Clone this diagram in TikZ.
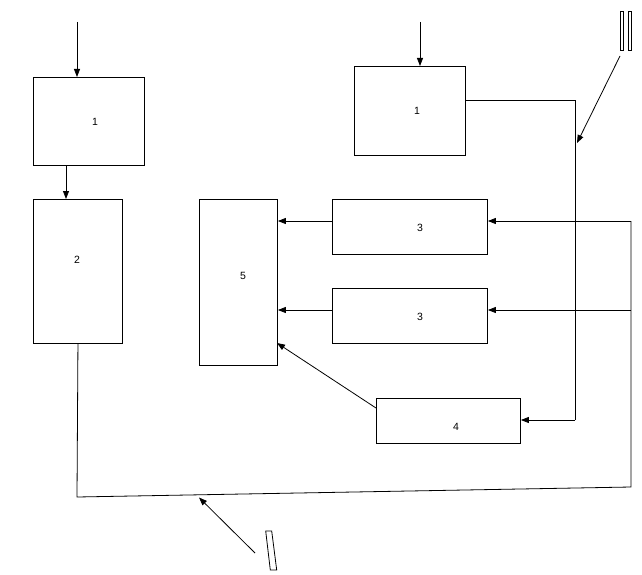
\documentclass[tikz,border=0pt]{standalone}
\usepackage{fontspec}
\setmainfont{Liberation Sans}
\usetikzlibrary{arrows.meta}
\begin{document}
\begin{tikzpicture}[x=1pt,y=-1pt,
  box/.style={draw,line width=0.9pt,inner sep=0pt,anchor=north west},
  lab/.style={font=\fontsize{10.5}{12}\selectfont,inner sep=0pt},
  wire/.style={line width=0.8pt},
  arr/.style={wire,-{Triangle[length=8pt,width=6pt]}}]
\useasboundingbox (0,0) rectangle (642,575);
% boxes
\node[box,minimum width=111pt,minimum height=88pt] (b1) at (33,77) {};
\node[box,minimum width=89pt,minimum height=144pt] (b2) at (33,199) {};
\node[box,minimum width=111pt,minimum height=89pt] (b1r) at (354,66) {};
\node[box,minimum width=78pt,minimum height=166pt] (b5) at (199,199) {};
\node[box,minimum width=155pt,minimum height=55pt] (b3a) at (332,199) {};
\node[box,minimum width=155pt,minimum height=55pt] (b3b) at (332,288) {};
\node[box,minimum width=144pt,minimum height=45pt] (b4) at (376,398) {};
% labels
\node[lab] (l1) at (95,122) {1};
\node[lab] (l2) at (77,260) {2};
\node[lab] (l1r) at (417,111) {1};
\node[lab] (l5) at (243,276) {5};
\node[lab] (l3a) at (420,228) {3};
\node[lab] (l3b) at (420,317) {3};
\node[lab] (l4) at (456,427) {4};
% coordinates
\coordinate (in1) at (77,22);
\coordinate (in2) at (420,22);
\coordinate (c1) at (575,100);
\coordinate (c2) at (575,420);
\coordinate (fs) at (620,56);
\coordinate (fe) at (577,143);
\coordinate (r1) at (631,221);
\coordinate (r2) at (631,310);
\coordinate (bl) at (77,497);
\coordinate (br) at (631,487);
\coordinate (ss) at (255,553);
\coordinate (se) at (199,497.5);
% connectors
\draw[arr] (in1) -- (in1 |- b1.north);
\draw[arr] (66,165) -- (66,199);
\draw[arr] (in2) -- (in2 |- b1r.north);
\draw[wire] (b1r.east |- c1) -- (c1) -- (c2);
\draw[arr] (c2) -- (b4.east |- c2);
\draw[arr] (fs) -- (fe);
\draw[arr] (b3a.west |- r1) -- (b5.east |- r1);
\draw[arr] (b3b.west |- r2) -- (b5.east |- r2);
\draw[arr] (r1) -- (b3a.east |- r1);
\draw[arr] (r2) -- (b3b.east |- r2);
\draw[arr] (376,408) -- (277,343);
\draw[wire] (b2.south) -- (bl) -- (br) -- (r1);
\draw[arr] (ss) -- (se);
% symbols
\draw[line width=0.8pt] (620,11) rectangle (623,50);
\draw[line width=0.8pt] (628,11) rectangle (631,50);
\draw[line width=0.8pt] (265.7,531) -- (271.7,531) -- (276.7,570) -- (270.3,570) -- cycle;
\end{tikzpicture}
\end{document}
